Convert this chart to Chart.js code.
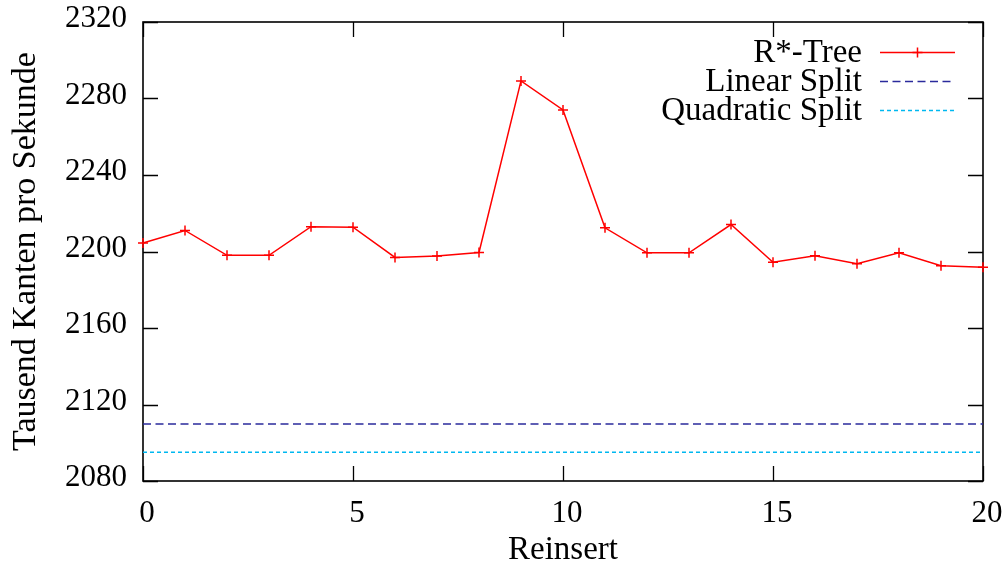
<!DOCTYPE html>
<html lang="de">
<head>
  <meta charset="UTF-8">
  <title>Reinsert – Tausend Kanten pro Sekunde</title>
  <script src="https://cdn.jsdelivr.net/npm/chart.js"></script>
  <style>
    html, body { margin: 0; padding: 0; background: #fff; }
    #wrap { width: 1005px; height: 567px; position: relative; }
  </style>
</head>
<body>
  <div id="wrap"><canvas id="grafico"></canvas></div>

  <script>
    // Daten
    const reinsert = [0, 1, 2, 3, 4, 5, 6, 7, 8, 9, 10, 11, 12, 13, 14, 15, 16, 17, 18, 19, 20];
    const rStarTree = [2204.4, 2211, 2198, 2198, 2213, 2212.7, 2196.9, 2197.6, 2199.5, 2289.2, 2274,
                       2212.4, 2199.3, 2199.3, 2214.1, 2194.4, 2197.8, 2193.6, 2199.3, 2192.6, 2191.8];
    const splitX = [0, 20];
    const linearSplit = [2109.8, 2109.8];
    const quadraticSplit = [2095, 2095];
    const yTicks = [2080, 2120, 2160, 2200, 2240, 2280, 2320];
    const xTicks = [0, 5, 10, 15, 20];

    const serif = '"Liberation Serif", "DejaVu Serif", serif';

    const toPoints = (xs, ys) => xs.map((x, i) => ({ x: x, y: ys[i] }));

    // Rahmen und nach innen zeigende Ticks (wie gnuplot)
    const rahmenPlugin = {
      id: 'rahmen',
      beforeDatasetsDraw(chart) {
        const { ctx, chartArea: a, scales } = chart;
        const len = 15;
        ctx.save();
        ctx.strokeStyle = '#000';
        ctx.lineWidth = 1.3;
        scales.y.ticks.forEach(t => {
          const y = Math.round(scales.y.getPixelForValue(t.value)) + 0.5;
          ctx.beginPath();
          ctx.moveTo(a.left, y); ctx.lineTo(a.left + len, y);
          ctx.moveTo(a.right, y); ctx.lineTo(a.right - len, y);
          ctx.stroke();
        });
        scales.x.ticks.forEach(t => {
          const x = Math.round(scales.x.getPixelForValue(t.value)) + 0.5;
          ctx.beginPath();
          ctx.moveTo(x, a.bottom); ctx.lineTo(x, a.bottom - len);
          ctx.moveTo(x, a.top); ctx.lineTo(x, a.top + len);
          ctx.stroke();
        });
        ctx.lineWidth = 1.6;
        ctx.strokeRect(a.left, a.top, a.right - a.left, a.bottom - a.top);
        ctx.restore();
      }
    };

    // Legende oben rechts: Text rechtsbündig, Linienmuster rechts daneben
    const legendePlugin = {
      id: 'legende',
      afterDraw(chart) {
        const { ctx } = chart;
        const textRight = 862, x0 = 880, x1 = 955;
        const rows = [52.5, 81.5, 110.5];
        ctx.save();
        ctx.font = '33px ' + serif;
        ctx.textAlign = 'right';
        ctx.textBaseline = 'middle';
        chart.data.datasets.forEach((ds, i) => {
          const y = rows[i];
          ctx.fillStyle = '#000';
          ctx.fillText(ds.label, textRight, y + 1);
          ctx.strokeStyle = ds.borderColor;
          ctx.lineWidth = ds.borderWidth;
          ctx.setLineDash(ds.borderDash || []);
          ctx.beginPath();
          ctx.moveTo(x0, y); ctx.lineTo(x1, y);
          ctx.stroke();
          ctx.setLineDash([]);
          if (ds.pointRadius > 0) {
            const cx = (x0 + x1) / 2, r = ds.pointRadius;
            ctx.beginPath();
            ctx.moveTo(cx - r, y); ctx.lineTo(cx + r, y);
            ctx.moveTo(cx, y - r); ctx.lineTo(cx, y + r);
            ctx.stroke();
          }
        });
        ctx.restore();
      }
    };

    const ctx = document.getElementById('grafico').getContext('2d');
    new Chart(ctx, {
      type: 'line',
      data: {
        datasets: [
          {
            label: 'R*-Tree',
            data: toPoints(reinsert, rStarTree),
            borderColor: '#ff0000',
            backgroundColor: '#ff0000',
            borderWidth: 1.5,
            pointStyle: 'cross',
            pointRadius: 5,
            pointBorderWidth: 1.5,
            tension: 0,
            clip: false
          },
          {
            label: 'Linear Split',
            data: toPoints(splitX, linearSplit),
            borderColor: '#2a2a9c',
            borderWidth: 1.5,
            borderDash: [8, 4.5],
            pointRadius: 0
          },
          {
            label: 'Quadratic Split',
            data: toPoints(splitX, quadraticSplit),
            borderColor: '#00b8f0',
            borderWidth: 1.5,
            borderDash: [4, 3],
            pointRadius: 0
          }
        ]
      },
      options: {
        responsive: true,
        maintainAspectRatio: false,
        animation: false,
        layout: { padding: { top: 22, right: 22, left: 0, bottom: 0 } },
        plugins: {
          legend: { display: false },
          tooltip: { enabled: false }
        },
        scales: {
          x: {
            type: 'linear',
            min: 0,
            max: 20,
            afterBuildTicks: s => { s.ticks = xTicks.map(v => ({ value: v })); },
            grid: { display: false, drawTicks: false },
            border: { display: false },
            ticks: {
              color: '#000',
              font: { family: serif, size: 31 },
              padding: 14,
              labelOffset: 4,
              maxRotation: 0,
              callback: v => String(v)
            },
            title: {
              display: true,
              text: 'Reinsert',
              color: '#000',
              font: { family: serif, size: 33, lineHeight: 1.0 },
              padding: { top: 0, bottom: 0 }
            },
            afterFit: s => {
              s.height = 86;
              s.paddingLeft = 0; s.paddingRight = 0;
            }
          },
          y: {
            min: 2080,
            max: 2320,
            afterBuildTicks: s => { s.ticks = yTicks.map(v => ({ value: v })); },
            grid: { display: false, drawTicks: false },
            border: { display: false },
            ticks: {
              color: '#000',
              font: { family: serif, size: 31 },
              padding: 16,
              labelOffset: -3,
              callback: v => String(v)
            },
            title: {
              display: true,
              text: 'Tausend Kanten pro Sekunde',
              color: '#000',
              font: { family: serif, size: 34 },
              padding: { top: 6, bottom: 0 }
            },
            afterFit: s => {
              s.width = 143;
              s.paddingTop = 0; s.paddingBottom = 0;
            }
          }
        }
      },
      plugins: [rahmenPlugin, legendePlugin]
    });
  </script>
</body>
</html>
